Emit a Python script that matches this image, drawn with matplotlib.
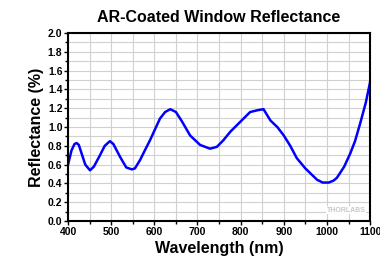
import matplotlib
matplotlib.use("Agg")
import matplotlib.pyplot as plt
from matplotlib.ticker import MultipleLocator, FormatStrFormatter

plt.rcParams['font.family'] = ['Liberation Sans', 'DejaVu Sans']
plt.rcParams['font.weight'] = 'bold'

wavelength = [400, 408, 415, 420, 425, 430, 440, 451, 460, 474, 485, 497, 505, 521, 535, 548, 555, 567, 580, 590,
              600, 613, 625, 637, 650, 664, 683, 706, 729, 745, 760, 776, 800, 822, 840, 853, 869, 885, 900, 915,
              930, 950, 977, 990, 1004, 1015, 1023, 1040, 1054, 1065, 1077, 1090, 1100]
reflectance = [0.60, 0.75, 0.82, 0.83, 0.81, 0.74, 0.60, 0.54, 0.58, 0.70, 0.80, 0.85, 0.82, 0.68, 0.57, 0.55, 0.56, 0.65, 0.77, 0.86,
               0.96, 1.09, 1.16, 1.19, 1.16, 1.06, 0.91, 0.81, 0.77, 0.79, 0.86, 0.95, 1.06, 1.16, 1.18, 1.19, 1.07, 1.00, 0.91, 0.80,
               0.67, 0.56, 0.44, 0.41, 0.41, 0.43, 0.46, 0.58, 0.72, 0.85, 1.04, 1.26, 1.48]

fig = plt.figure(figsize=(3.8, 2.58), dpi=100)
ax = fig.add_axes([0.179, 0.143, 0.795, 0.729])
ax.plot(wavelength, reflectance, color='#0000ff', lw=1.8)
ax.set_xlim(400, 1100)
ax.set_ylim(0, 2.0)
ax.xaxis.set_major_locator(MultipleLocator(100))
ax.xaxis.set_minor_locator(MultipleLocator(50))
ax.yaxis.set_major_locator(MultipleLocator(0.2))
ax.yaxis.set_minor_locator(MultipleLocator(0.1))
ax.yaxis.set_major_formatter(FormatStrFormatter('%.1f'))
ax.grid(which='both', color='#d0d0d0', lw=0.8)
ax.set_axisbelow(True)
for s in ax.spines.values():
    s.set_linewidth(1.5)
ax.tick_params(which='major', direction='out', length=3, width=1, labelsize=7.5, pad=1)
ax.tick_params(which='minor', direction='out', length=2, width=1)
ax.set_xlabel('Wavelength (nm)', fontsize=11.5, fontweight='bold', labelpad=3)
ax.set_ylabel('Reflectance (%)', fontsize=11.5, fontweight='bold', labelpad=3)
ax.set_title('AR-Coated Window Reflectance', fontsize=11.5, fontweight='bold', pad=8)
ax.text(0.985, 0.04, 'THORLABS', transform=ax.transAxes, ha='right', va='bottom',
        fontsize=5, color='#c8c8c8', fontweight='bold',
        bbox=dict(facecolor='white', edgecolor='none', pad=0.5))
fig.savefig('out.png', dpi=100)
